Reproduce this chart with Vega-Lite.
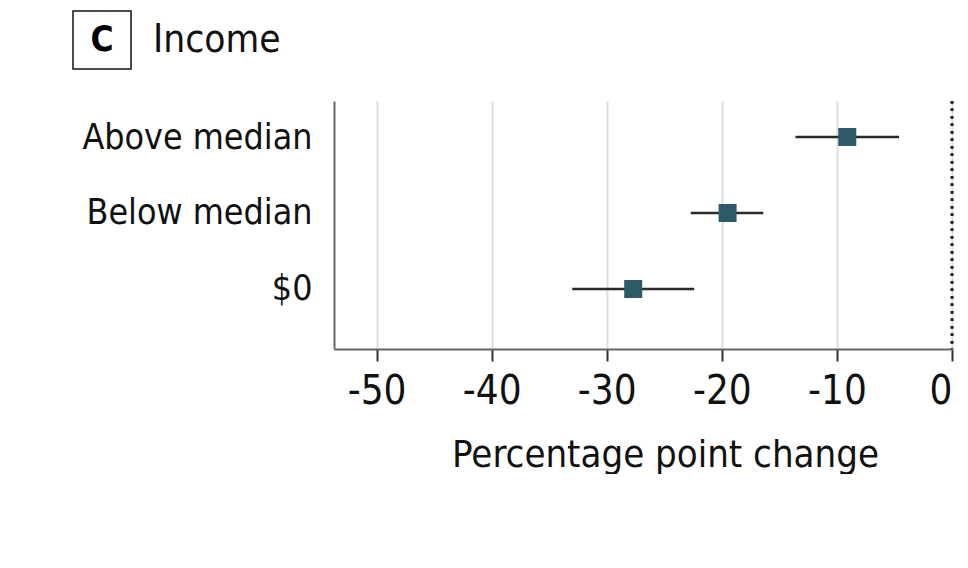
{
  "$schema": "https://vega.github.io/schema/vega-lite/v6.json",
  "padding": {"left": 72, "top": 10, "right": 0, "bottom": 0},
  "background": "white",
  "config": {
    "font": "DejaVu Sans Condensed, DejaVu Sans, sans-serif",
    "view": {"stroke": null}
  },
  "spacing": 29,
  "vconcat": [
    {
      "hconcat": [
        {
          "width": 58,
          "height": 58,
          "view": {"stroke": "#111111", "strokeWidth": 1.5},
          "data": {"values": [{"panel": "C"}]},
          "mark": {"type": "text", "fontSize": 35, "fontWeight": "bold", "color": "#000000", "baseline": "middle", "align": "center"},
          "encoding": {"text": {"field": "panel"}}
        },
        {
          "width": 1,
          "height": 58,
          "data": {"values": [{"heading": "Income"}]},
          "mark": {"type": "text", "fontSize": 38.5, "color": "#111111", "baseline": "middle", "align": "left"},
          "encoding": {"text": {"field": "heading"}}
        }
      ],
      "spacing": 20.5
    },
    {
      "hconcat": [
        {
          "width": 1,
          "height": 248,
          "data": {"values": [{"blank": ""}]},
          "mark": {"type": "text"},
          "encoding": {"text": {"field": "blank"}}
        },
        {
          "width": 618,
          "height": 248,
          "data": {
            "values": [
              {"group": "Above median", "estimate": -9.1, "lower": -13.6, "upper": -4.6},
              {"group": "Below median", "estimate": -19.5, "lower": -22.7, "upper": -16.4},
              {"group": "$0", "estimate": -27.7, "lower": -33.0, "upper": -22.4}
            ]
          },
          "encoding": {
            "y": {
              "field": "group",
              "type": "nominal",
              "sort": ["Above median", "Below median", "$0"],
              "scale": {"type": "point", "padding": 0.6316, "align": 0.375},
              "axis": {
                "title": null,
                "ticks": false,
                "labelFontSize": 35.5,
                "labelColor": "#111111",
                "labelPadding": 22,
                "labelLimit": 400,
                "domainColor": "#666666",
                "domainWidth": 2,
                "grid": false,
                "minExtent": 260
              }
            }
          },
          "layer": [
            {
              "mark": {"type": "rule", "color": "#222222", "strokeWidth": 2.5, "strokeDash": [2.5, 5]},
              "encoding": {"x": {"datum": 0}, "y": null}
            },
            {
              "mark": {"type": "rule", "color": "#2a2a2a", "strokeWidth": 2.3},
              "encoding": {
                "x": {
                  "field": "lower",
                  "type": "quantitative",
                  "scale": {"domain": [-53.7, 0], "nice": false, "zero": false},
                  "axis": {
                    "values": [-50, -40, -30, -20, -10, 0],
                    "labelExpr": "'' + datum.value",
                    "labelFontSize": 40,
                    "labelColor": "#111111",
                    "labelPadding": 10,
                    "tickSize": 12,
                    "tickWidth": 2,
                    "tickColor": "#333333",
                    "domainColor": "#666666",
                    "domainWidth": 2,
                    "grid": true,
                    "gridColor": "#dddddd",
                    "gridWidth": 2,
                    "title": "Percentage point change",
                    "titleFontSize": 38,
                    "titleFontWeight": "normal",
                    "titleColor": "#111111",
                    "titlePadding": 25,
                    "titleX": 331,
                    "titleAlign": "center"
                  }
                },
                "x2": {"field": "upper"}
              }
            },
            {
              "mark": {"type": "square", "size": 324, "filled": true, "color": "#2d5969", "opacity": 1},
              "encoding": {
                "x": {"field": "estimate", "type": "quantitative"}
              }
            }
          ]
        }
      ],
      "spacing": 0
    }
  ]
}
